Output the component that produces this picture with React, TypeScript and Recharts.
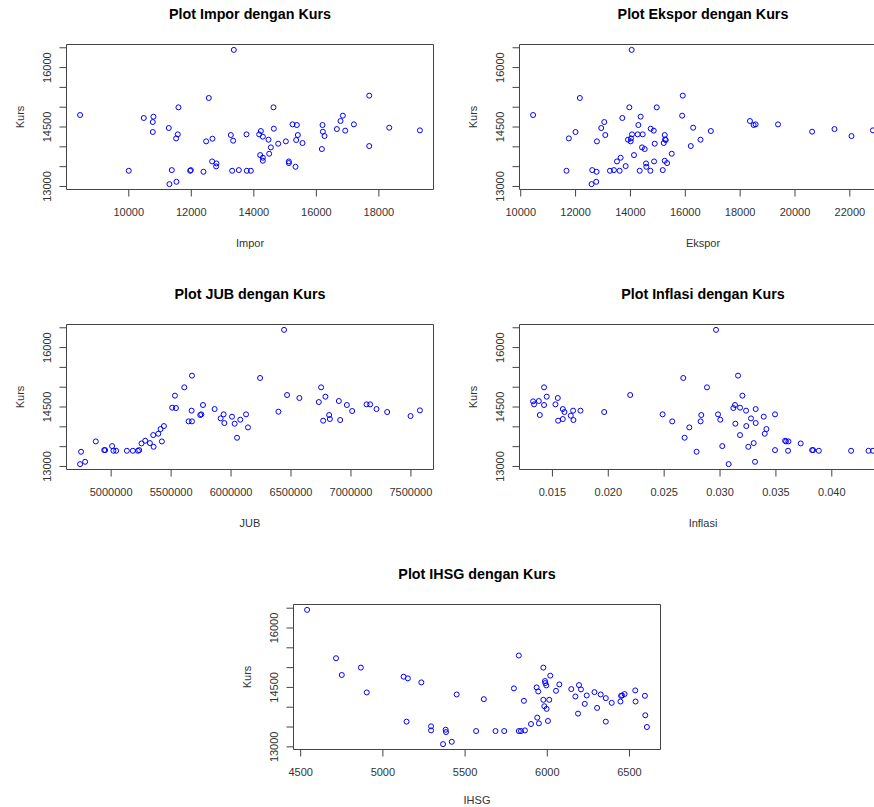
import React from 'react';
import { ScatterChart, Scatter, XAxis, YAxis, ReferenceArea } from 'recharts';

// ---------- data ----------
const kursTicks = [13000, 13500, 14000, 14500, 15000, 15500, 16000, 16500];
const kursLabels = [13000, 14500, 16000];

const imporTicks = [10000, 12000, 14000, 16000, 18000];
const impor = [8443, 10000, 10480, 10768, 10789, 10768, 11280, 11301, 11376, 11525, 11515, 11568, 11589, 11963, 11984, 12389, 12475, 12560, 12677, 12667, 12805, 12795, 13264, 13307, 13339, 13360, 13520, 13765, 13776, 13904, 14171, 14224, 14288, 14203, 14288, 14288, 14469, 14491, 14544, 14629, 14640, 14779, 15024, 15120, 15120, 15237, 15333, 15376, 15355, 15408, 15557, 16197, 16176, 16208, 16261, 16656, 16773, 16848, 16923, 17200, 17691, 17691, 18331, 19312];
const kursImpor = [14803, 13396, 14728, 14626, 14761, 14374, 14475, 13059, 13413, 13118, 14213, 14315, 14997, 13396, 13413, 13371, 14138, 15233, 14205, 13632, 13581, 13506, 14298, 13396, 14155, 16447, 13413, 14315, 13396, 13396, 14315, 14399, 14256, 13792, 13725, 13649, 14180, 13826, 13986, 14997, 14458, 14079, 14138, 13632, 13590, 14567, 13497, 14551, 14172, 14298, 14096, 14551, 13944, 14382, 14272, 14449, 14652, 14787, 14408, 14567, 15292, 14020, 14483, 14416];

const eksporTicks = [10000, 12000, 14000, 16000, 18000, 20000, 22000];
const ekspor = [10451, 11669, 11754, 11998, 12156, 12583, 12607, 12753, 12766, 12778, 12936, 13046, 13083, 13253, 13399, 13509, 13607, 13643, 13704, 13826, 13911, 13960, 14008, 14021, 14045, 14057, 14130, 14265, 14289, 14338, 14374, 14423, 14447, 14520, 14569, 14581, 14728, 14740, 14850, 14862, 14886, 14959, 15178, 15214, 15251, 15251, 15263, 15287, 15336, 15507, 15885, 15909, 16201, 16287, 16555, 16932, 18358, 18492, 18565, 19381, 20624, 21440, 22061, 22841];
const kursEkspor = [14803, 13396, 14213, 14374, 15233, 13059, 13413, 13118, 13371, 14138, 14475, 14626, 14298, 13396, 13413, 13632, 13396, 13725, 14728, 13514, 14180, 14997, 14138, 14213, 16447, 14315, 13792, 14315, 14551, 13396, 14761, 13986, 14315, 13944, 13581, 13497, 13396, 14458, 14408, 13632, 14079, 14997, 13413, 14096, 14298, 13649, 14188, 14172, 13590, 13826, 14787, 15292, 14020, 14483, 14180, 14399, 14652, 14551, 14567, 14567, 14382, 14449, 14272, 14416];

const jubTicks = [5000000, 5500000, 6000000, 6500000, 7000000, 7500000];
const jub = [4741000, 4749000, 4783000, 4872000, 4942000, 4950000, 5008000, 5019000, 5042000, 5131000, 5181000, 5223000, 5234000, 5253000, 5284000, 5323000, 5354000, 5351000, 5393000, 5412000, 5423000, 5440000, 5509000, 5532000, 5540000, 5610000, 5646000, 5674000, 5671000, 5674000, 5743000, 5752000, 5766000, 5863000, 5913000, 5938000, 5944000, 6008000, 6030000, 6050000, 6077000, 6125000, 6141000, 6242000, 6395000, 6442000, 6467000, 6570000, 6732000, 6751000, 6768000, 6787000, 6818000, 6824000, 6899000, 6910000, 6966000, 7010000, 7130000, 7160000, 7213000, 7302000, 7497000, 7575000];
const kursJub = [13059, 13371, 13118, 13632, 13413, 13413, 13514, 13396, 13396, 13396, 13396, 13396, 13413, 13581, 13649, 13590, 13497, 13792, 13826, 13944, 13632, 14020, 14483, 14787, 14475, 14997, 14138, 14138, 14408, 15292, 14298, 14315, 14551, 14449, 14213, 14315, 14096, 14256, 14079, 13725, 14180, 14315, 13986, 15233, 14382, 16447, 14803, 14728, 14626, 14997, 14155, 14761, 14298, 14197, 14652, 14172, 14551, 14399, 14567, 14567, 14449, 14374, 14272, 14416];

const inflasiTicks = [0.015, 0.02, 0.025, 0.03, 0.035, 0.04];
const inflasi = [0.01327, 0.01336, 0.01378, 0.01387, 0.01425, 0.01425, 0.01449, 0.01527, 0.01548, 0.01551, 0.01593, 0.01593, 0.01608, 0.01664, 0.01685, 0.01688, 0.01751, 0.01963, 0.02196, 0.02486, 0.02572, 0.02671, 0.02683, 0.02725, 0.0279, 0.02826, 0.02832, 0.02883, 0.02964, 0.02982, 0.03002, 0.0302, 0.03077, 0.03119, 0.03134, 0.03137, 0.03161, 0.03179, 0.03179, 0.032, 0.03233, 0.03235, 0.03253, 0.03277, 0.03301, 0.03313, 0.03319, 0.03319, 0.03391, 0.034, 0.03415, 0.03492, 0.03492, 0.03582, 0.03591, 0.03612, 0.03609, 0.03722, 0.03824, 0.03833, 0.03884, 0.04173, 0.04329, 0.04368];
const kursInflasi = [14643, 14567, 14652, 14298, 14997, 14551, 14761, 14567, 14728, 14155, 14449, 14197, 14374, 14281, 14408, 14172, 14408, 14374, 14803, 14315, 14138, 15233, 13725, 13986, 13371, 14138, 14298, 14997, 16447, 14315, 14180, 13514, 13059, 14475, 14551, 14079, 15292, 14483, 13792, 14787, 14408, 14020, 13497, 14213, 13590, 13118, 14449, 14096, 14256, 13826, 13944, 14315, 13413, 13649, 13632, 13632, 13396, 13581, 13413, 13413, 13396, 13396, 13396, 13396];

const ihsgTicks = [4500, 5000, 5500, 6000, 6500];
const ihsg = [4539, 4715, 4750, 4866, 4902, 5126, 5144, 5152, 5234, 5293, 5293, 5382, 5384, 5366, 5419, 5449, 5567, 5614, 5685, 5738, 5797, 5827, 5827, 5840, 5858, 5864, 5901, 5935, 5945, 5939, 5949, 5976, 5976, 5982, 5986, 5988, 5994, 5996, 6004, 6012, 6018, 6053, 6073, 6146, 6171, 6187, 6193, 6205, 6228, 6240, 6287, 6303, 6325, 6356, 6356, 6392, 6445, 6449, 6455, 6470, 6535, 6537, 6594, 6596, 6606];
const kursIhsg = [16458, 15237, 14814, 15000, 14373, 14771, 13636, 14729, 14627, 13517, 13415, 13432, 13373, 13068, 13127, 14322, 13398, 14203, 13398, 13398, 14475, 15305, 13398, 13398, 14161, 13415, 13576, 14500, 14398, 13737, 13593, 15000, 14187, 14025, 14661, 14610, 14551, 13958, 13653, 14187, 14797, 14415, 14576, 14458, 14271, 13839, 14559, 14449, 14085, 14297, 14381, 13983, 14322, 14229, 13636, 14110, 14144, 14288, 14297, 14331, 14424, 14144, 14288, 13797, 13500];

// ---------- helpers ----------
const FONT = '"Liberation Sans", Arial, Helvetica, sans-serif';
const TEXT = '#333';
const LINE = '#444';

function padDomain(values: number[]): [number, number] {
  const lo = Math.min(...values);
  const hi = Math.max(...values);
  const d = (hi - lo) * 0.04;
  return [lo - d, hi + d];
}

const YTick = (props: any) => {
  const { x, y, payload } = props;
  if (!kursLabels.includes(payload.value)) return <g />;
  const cx = x - 10;
  return (
    <text x={cx} y={y} transform={`rotate(-90, ${cx}, ${y})`} textAnchor="middle" dy="0.36em" fontSize={11} fill={TEXT}>
      {payload.value}
    </text>
  );
};

const Ring = (props: any) => (
  <circle cx={props.cx} cy={props.cy} r={2.5} fill="none" stroke="#0000ff" strokeWidth={1} />
);

type PanelProps = {
  left: number;
  top: number;
  title: string;
  xName: string;
  xs: number[];
  ys: number[];
  xTicks: number[];
  xNameOffset?: number;
  fmt?: (v: number) => string;
};

function Panel({ left, top, title, xName, xs, ys, xTicks, xNameOffset = 13.5, fmt }: PanelProps) {
  const data = xs.map((x, i) => ({ x, y: ys[i] }));
  const xd = padDomain(xs);
  const yd = padDomain(ys);
  return (
    <div style={{ position: 'absolute', left, top, fontFamily: FONT }}>
      <ScatterChart width={454} height={260} margin={{ top: 44.5, right: 20.5, bottom: 0, left: 0 }}>
        <XAxis
          type="number"
          dataKey="x"
          domain={xd}
          ticks={xTicks}
          allowDataOverflow
          interval={0}
          axisLine={false}
          tickSize={7}
          tickMargin={12}
          tickLine={{ stroke: LINE }}
          tick={{ fontSize: 11, fill: TEXT }}
          tickFormatter={fmt}
          height={70.5}
          label={{ value: xName, position: 'insideBottom', offset: xNameOffset, fontSize: 11, fill: TEXT }}
        />
        <YAxis
          type="number"
          dataKey="y"
          domain={yd}
          ticks={kursTicks}
          allowDataOverflow
          interval={0}
          axisLine={false}
          tickSize={7}
          tickMargin={2}
          tickLine={{ stroke: LINE }}
          tick={(p: any) => <YTick {...p} />}
          width={66.5}
          label={{ value: 'Kurs', angle: -90, position: 'insideLeft', offset: 20, fontSize: 11, fill: TEXT, textAnchor: 'middle', style: { textAnchor: 'middle' } }}
        />
        <ReferenceArea
          x1={xd[0]}
          x2={xd[1]}
          y1={yd[0]}
          y2={yd[1]}
          fill="none"
          stroke={LINE}
          strokeWidth={1}
          ifOverflow="visible"
          label={{ value: title, position: 'top', offset: 26, fontSize: 14.3, fontWeight: 'bold', fill: '#000' }}
        />
        <Scatter data={data} shape={(p: any) => <Ring {...p} />} isAnimationActive={false} />
      </ScatterChart>
    </div>
  );
}

export default function App() {
  return (
    <div style={{ position: 'absolute', left: 0, top: 0, width: 874, height: 807, overflow: 'hidden', background: '#fff', fontFamily: FONT }}>
      <Panel left={0} top={0} title="Plot Impor dengan Kurs" xName="Impor" xs={impor} ys={kursImpor} xTicks={imporTicks} />
      <Panel left={453} top={0} title="Plot Ekspor dengan Kurs" xName="Ekspor" xs={ekspor} ys={kursEkspor} xTicks={eksporTicks} />
      <Panel left={0} top={280} title="Plot JUB dengan Kurs" xName="JUB" xs={jub} ys={kursJub} xTicks={jubTicks} />
      <Panel left={453} top={280} title="Plot Inflasi dengan Kurs" xName="Inflasi" xs={inflasi} ys={kursInflasi} xTicks={inflasiTicks} fmt={(v: number) => v.toFixed(3)} />
      <Panel left={227} top={560} title="Plot IHSG dengan Kurs" xName="IHSG" xs={ihsg} ys={kursIhsg} xTicks={ihsgTicks} xNameOffset={16} />
    </div>
  );
}
